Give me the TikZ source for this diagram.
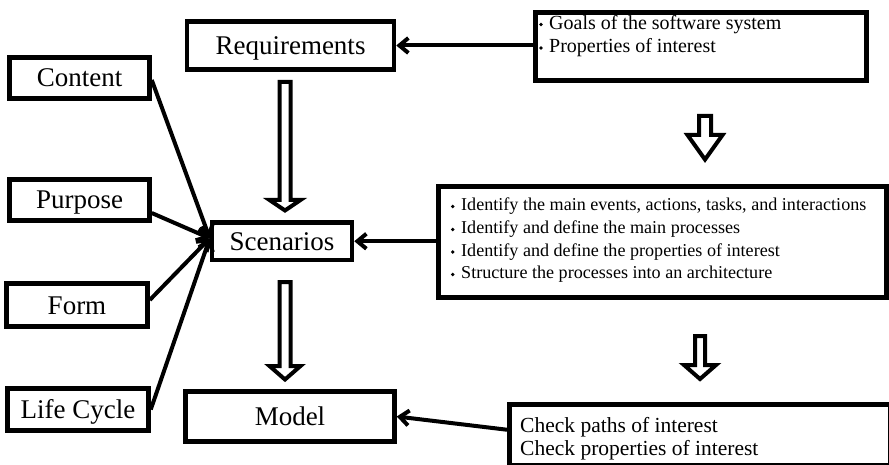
\documentclass[tikz,border=0pt]{standalone}
\usepackage{fontspec}
\setmainfont{Liberation Serif}
\usetikzlibrary{arrows.meta,calc}

% hollow block arrow pointing down:
% #1 centre x, #2 shaft top, #3 head top, #4 tip, #5 half shaft width, #6 half head width
\newcommand\blockdown[6]{%
  \draw[hollow] ({#1-#5},#2) -- ({#1+#5},#2) -- ({#1+#5},#3) -- ({#1+#6},#3)
    -- (#1,#4) -- ({#1-#6},#3) -- ({#1-#5},#3) -- cycle;}

\begin{document}
\begin{tikzpicture}[x=1pt,y=-1pt,
  lbl/.style={draw, line width=4.5pt, inner sep=0pt,
    font=\fontsize{27}{30}\selectfont, text height=18pt, text depth=0pt},
  panel/.style={draw, line width=4.5pt, inner sep=0pt},
  ln/.style={anchor=base west, inner sep=0pt},
  small/.style={font=\fontsize{18.1}{22}\selectfont},
  mid/.style={font=\fontsize{20}{24}\selectfont},
  big/.style={font=\fontsize{21.5}{24}\selectfont},
  feed/.style={line width=4pt, -{Straight Barb[length=9pt,width=15pt]}},
  hollow/.style={draw, line width=4pt, fill=white, line join=miter},
  bulletdot/.style={fill=black}
]
\useasboundingbox (0,0) rectangle (889,465);
\clip (0,0) rectangle (889,465);

% main column
\node[lbl, minimum width=207pt, minimum height=48pt] (req)   at (290.5,45.5) {Requirements};
\node[lbl, minimum width=140pt, minimum height=37.5pt] (scen) at (282,241.25) {Scenarios};
\node[lbl, minimum width=209pt, minimum height=50pt] (model) at (290,416.5) {Model};

% aspects on the left
\node[lbl, minimum width=140pt, minimum height=41pt] (content) at (79.5,78)  {Content};
\node[lbl, minimum width=140pt, minimum height=41pt] (purpose) at (79.5,200) {Purpose};
\node[lbl, minimum width=141pt, minimum height=43pt] (form)    at (77,305)   {Form};
\node[lbl, minimum width=141pt, minimum height=42pt] (life)    at (78,409.5) {Life Cycle};

% activity panels on the right
\node[panel, minimum width=331pt, minimum height=68pt]    (goals)  at (701,46.5) {};
\node[panel, minimum width=448pt, minimum height=111pt]   (steps)  at (662.5,242) {};
\node[panel, minimum width=380.5pt, minimum height=61pt]  (checks) at (699.75,435) {};

\node[ln, mid] (g1) at (549,29.5) {Goals of the software system};
\node[ln, mid] (g2) at (549,53) {Properties of interest};

\node[ln, small] (s1) at (461,211) {Identify the main events, actions, tasks, and interactions};
\node[ln, small] (s2) at (461,234) {Identify and define the main processes};
\node[ln, small] (s3) at (461,256.5) {Identify and define the properties of interest};
\node[ln, small] (s4) at (461,279) {Structure the processes into an architecture};

\node[ln, big] (c1) at (520,432) {Check paths of interest};
\node[ln, big] (c2) at (520,455) {Check properties of interest};

% list bullets
\foreach \l in {g1,g2}
  \fill[bulletdot] ([xshift=-8pt,yshift=5pt]\l.base west) circle (1.9pt);
\foreach \l in {s1,s2,s3,s4}
  \fill[bulletdot] ([xshift=-8.3pt,yshift=4.5pt]\l.base west) circle (1.8pt);

% feeds into the main column
\draw[feed] (goals.west |- req.east) -- (req.east);
\draw[feed] (steps.west |- scen.east) -- (scen.east);
\coordinate (cin) at ($(checks.north west)!0.42!(checks.south west)$);
\draw[feed] (cin) -- (model.east);

\coordinate (sin) at ([yshift=3pt]scen.west);
\draw[feed] ([yshift=-2pt]content.east) -- (sin);
\draw[feed] ([yshift=-13pt]purpose.east) -- (sin);
\draw[feed] ([yshift=5pt]form.east) -- (sin);
\draw[feed] (life.east) -- (sin);

% hollow flow arrows
\blockdown{285}{82}{200}{210.5}{5.5}{15.5}
\blockdown{285}{282}{366}{379.5}{5.5}{15.5}
\blockdown{705}{116}{135}{159.5}{6}{17.5}
\blockdown{700}{336}{365}{379}{5}{16}
\end{tikzpicture}
\end{document}
